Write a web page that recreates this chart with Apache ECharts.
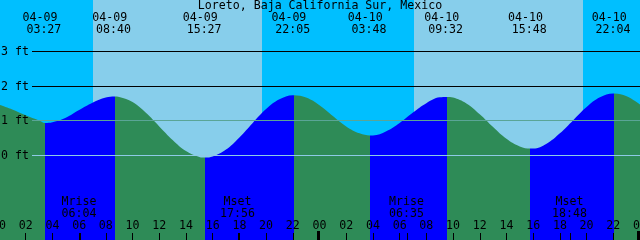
<!DOCTYPE html>
<html><head><meta charset="utf-8">
<script src="https://cdn.jsdelivr.net/npm/echarts@6/dist/echarts.min.js"></script>
<style>html,body{margin:0;padding:0;background:#fff}#c{width:640px;height:240px}</style>
</head><body><div id="c"></div>
<script>
const chartTitle = 'Loreto, Baja California Sur, Mexico';
// tide curve samples: hours since 04-09 00:00 and height in feet
const curveHours = [0,1,2,3,3.45,4,5,6,7,8,8.667,9,10,11,12,13,14,15,15.45,16,17,18,19,20,21,22,22.083,23,24,25,26,27,27.8,28,29,30,31,32,33,33.533,34,35,36,37,38,39,39.8,40,41,42,43,44,45,46,46.067,47,48];
const curveFeet  = [1.47,1.33,1.16,1.01,0.94,0.96,1.09,1.31,1.52,1.67,1.70,1.69,1.54,1.23,0.84,0.45,0.13,-0.04,-0.06,-0.03,0.17,0.52,0.94,1.34,1.62,1.74,1.74,1.67,1.45,1.14,0.84,0.64,0.58,0.58,0.70,0.94,1.24,1.51,1.68,1.69,1.67,1.50,1.19,0.82,0.48,0.26,0.20,0.20,0.34,0.64,1.02,1.40,1.68,1.79,1.79,1.71,1.47];
// tide extremes
const tideHours = [3.45, 8.667, 15.45, 22.083, 27.8, 33.533, 39.8, 46.067];
const tideDates = ['04-09','04-09','04-09','04-09','04-10','04-10','04-10','04-10'];
const tideTimes = ['03:27','08:40','15:27','22:05','03:48','09:32','15:48','22:04'];
const tideKinds = ['low','high','low','high','low','high','low','high'];
// sun
const sunriseHours = [7.05, 31.05];
const sunsetHours = [19.725, 43.725];
// moon
const moonHours = [6.067, 17.933, 30.583, 42.8];
const moonNames = ['Mrise','Mset','Mrise','Mset'];
const moonTimes = ['06:04','17:56','06:35','18:48'];
// depth levels
const levelFeet = [0, 1, 2, 3];
const levelLabels = ['0 ft','1 ft','2 ft','3 ft'];
const midnightHours = [24, 48];
const hourTickLabels = ['00','02','04','06','08','10','12','14','16','18','20','22'];

const FONT = '11.6px "DejaVu Sans Mono"';
const C_NIGHT = '#00BFFF', C_DAY = '#87CEEB', C_RISE = '#0000FF', C_FALL = '#2E8B57';
const levelColors = ['#8ecae6', '#5aa596', '#000000', '#000000'];

// sky periods
const skyData = [];
let prev = 0;
for (let i = 0; i < sunriseHours.length; i++) {
  skyData.push([prev, sunriseHours[i], 0]);
  skyData.push([sunriseHours[i], sunsetHours[i], 1]);
  prev = sunsetHours[i];
}
skyData.push([prev, 48, 0]);

// water colour pieces (rising / falling)
const waterPieces = [];
let p0 = 0;
tideHours.forEach((t, i) => {
  waterPieces.push({ gte: p0, lt: t, color: tideKinds[i] === 'low' ? C_FALL : C_RISE });
  p0 = t;
});
waterPieces.push({ gte: p0, lte: 48, color: tideKinds[tideKinds.length - 1] === 'high' ? C_FALL : C_RISE });

const curveData = curveHours.map((h, i) => [h, curveFeet[i]]);

const chart = echarts.init(document.getElementById('c'), null, { renderer: 'canvas' });
chart.setOption({
  animation: false,
  backgroundColor: '#fff',
  title: {
    text: chartTitle, left: 'center', top: 0, padding: 0,
    textStyle: { fontFamily: 'DejaVu Sans Mono', fontSize: 11.6, fontWeight: 'normal', color: '#000' }
  },
  grid: { left: -1, right: 0, top: 0, bottom: 0, containLabel: false, outerBoundsMode: 'none' },
  xAxis: {
    type: 'value', min: 0, max: 48, interval: 2, z: 10,
    axisLine: { show: false, onZero: false },
    splitLine: { show: false },
    axisTick: { show: true, inside: true, length: 7, lineStyle: { color: '#000', width: 1 } },
    axisLabel: {
      inside: true, margin: 8, color: '#000', fontFamily: 'DejaVu Sans Mono', fontSize: 11.6,
      showMinLabel: true, showMaxLabel: true, hideOverlap: false,
      formatter: v => hourTickLabels[Math.round(v / 2) % 12]
    }
  },
  yAxis: { type: 'value', min: -2.4375, max: 4.4856, show: false, splitLine: { show: false } },
  visualMap: { type: 'piecewise', show: false, dimension: 0, seriesIndex: 1, pieces: waterPieces },
  series: [
    {
      type: 'custom', z: 1, data: skyData, encode: { x: [0, 1] }, silent: true,
      renderItem(params, api) {
        const s = api.coord([api.value(0), 0]);
        const e = api.coord([api.value(1), 0]);
        const cs = params.coordSys;
        const x0 = Math.round(s[0]), x1 = Math.round(e[0]);
        return { type: 'rect', shape: { x: x0, y: cs.y, width: x1 - x0, height: cs.height },
          style: { fill: api.value(2) ? C_DAY : C_NIGHT } };
      }
    },
    {
      type: 'line', z: 2, data: curveData, smooth: 0.4, showSymbol: false, silent: true,
      lineStyle: { width: 0 },
      areaStyle: { opacity: 1, origin: 'start' }
    },
    {
      type: 'custom', z: 3, silent: true,
      data: levelFeet.map((v, i) => [0, v, i]),
      renderItem(params, api) {
        const i = api.value(2);
        const c = api.coord([0, api.value(1)]);
        const y = Math.round(c[1] - 0.5) + 0.5;
        return { type: 'group', children: [
          { type: 'line', shape: { x1: 32, y1: y, x2: 640, y2: y }, style: { stroke: levelColors[i], lineWidth: 1 } },
          { type: 'text', style: { text: levelLabels[i], x: 1, y: y, font: FONT, fill: '#000', textAlign: 'left', textVerticalAlign: 'middle' } }
        ] };
      }
    },
    {
      type: 'custom', z: 4, silent: true,
      data: tideHours.map((t, i) => [t, 0, i]),
      renderItem(params, api) {
        const i = api.value(2);
        const c = api.coord([api.value(0), 0]);
        const top = params.coordSys.y;
        return { type: 'group', children: [
          { type: 'text', style: { text: tideDates[i], x: c[0] - 5, y: top + 17.5, font: FONT, fill: '#000', textAlign: 'center', textVerticalAlign: 'middle' } },
          { type: 'text', style: { text: tideTimes[i], x: c[0] - 1.2, y: top + 29.5, font: FONT, fill: '#000', textAlign: 'center', textVerticalAlign: 'middle' } }
        ] };
      }
    },
    {
      type: 'custom', z: 4, silent: true,
      data: moonHours.map((t, i) => [t, 0, i]),
      renderItem(params, api) {
        const i = api.value(2);
        const c = api.coord([api.value(0), 0]);
        const cs = params.coordSys;
        const bottom = cs.y + cs.height;
        const tx = Math.round(c[0] - 0.5) + 0.5;
        return { type: 'group', children: [
          { type: 'text', style: { text: moonNames[i], x: c[0] - 1, y: bottom - 38, font: FONT, fill: '#000', textAlign: 'center', textVerticalAlign: 'middle' } },
          { type: 'text', style: { text: moonTimes[i], x: c[0] - 1, y: bottom - 26.2, font: FONT, fill: '#000', textAlign: 'center', textVerticalAlign: 'middle' } },
          { type: 'line', shape: { x1: tx, y1: bottom - 7, x2: tx, y2: bottom }, style: { stroke: '#000', lineWidth: 1 } }
        ] };
      }
    },
    {
      type: 'custom', z: 5, silent: true,
      data: midnightHours.map(t => [t, 0]),
      renderItem(params, api) {
        const c = api.coord([api.value(0), 0]);
        const cs = params.coordSys;
        const bottom = cs.y + cs.height;
        const x = Math.round(c[0]) - 3;
        return { type: 'rect', shape: { x: x, y: bottom - 9, width: 3, height: 9 }, style: { fill: '#000' } };
      }
    }
  ]
});
</script>
</body></html>
